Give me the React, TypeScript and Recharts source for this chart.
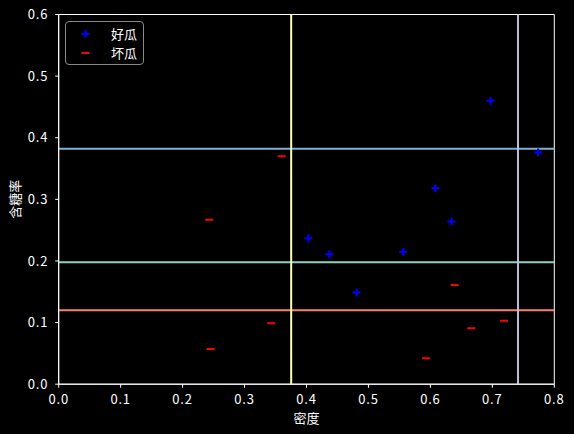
import React from 'react';
import {
  ScatterChart,
  Scatter,
  XAxis,
  YAxis,
  ReferenceLine,
  ReferenceArea,
  Legend,
} from 'recharts';

const goodX = [0.697, 0.774, 0.634, 0.608, 0.556, 0.403, 0.481, 0.437];
const goodY = [0.46, 0.376, 0.264, 0.318, 0.215, 0.237, 0.149, 0.211];
const badX = [0.666, 0.243, 0.245, 0.343, 0.639, 0.36, 0.593, 0.719];
const badY = [0.091, 0.267, 0.057, 0.099, 0.161, 0.37, 0.042, 0.103];

const xTicks = [0, 0.1, 0.2, 0.3, 0.4, 0.5, 0.6, 0.7, 0.8];
const yTicks = [0, 0.1, 0.2, 0.3, 0.4, 0.5, 0.6];

const hLines = [0.382, 0.198, 0.12];
const hColors = ['#81b1d2', '#8dd3c7', '#fa8174'];
const vLines = [0.3753, 0.7414];
const vColors = ['#feffb3', '#bfbbd9'];

const seriesNames = ['好瓜', '坏瓜'];

const goodData = goodX.map((x, i) => ({ x, y: goodY[i] }));
const badData = badX.map((x, i) => ({ x, y: badY[i] }));

const FONT = '"Noto Sans CJK SC", "Noto Sans", sans-serif';

const Plus = (props: any) => {
  const { cx, cy } = props;
  if (cx == null || cy == null) return null;
  return (
    <g>
      <line x1={cx - 4} x2={cx + 4} y1={cy} y2={cy} stroke="#0000ff" strokeWidth={2} />
      <line x1={cx} x2={cx} y1={cy - 4} y2={cy + 4} stroke="#0000ff" strokeWidth={2} />
    </g>
  );
};

const Minus = (props: any) => {
  const { cx, cy } = props;
  if (cx == null || cy == null) return null;
  return <line x1={cx - 4} x2={cx + 4} y1={cy} y2={cy} stroke="#ff0000" strokeWidth={2} />;
};

const LegendBox = (props: any) => {
  const payload = [...(props.payload || [])].sort(
    (a: any, b: any) => seriesNames.indexOf(a.value) - seriesNames.indexOf(b.value)
  );
  return (
    <div
      style={{
        width: 77,
        height: 42,
        border: '1px solid #8a8a8a',
        borderRadius: 4,
        background: 'rgba(0,0,0,0.8)',
        position: 'relative',
        fontFamily: FONT,
      }}
    >
      {payload.map((entry: any, i: number) => {
        const isGood = entry.value === seriesNames[0];
        const top = i === 0 ? 3 : 22;
        return (
          <div key={i} style={{ position: 'absolute', left: 0, top, height: 18, width: 77 }}>
            <svg width={40} height={18} style={{ position: 'absolute', left: 0, top: 0 }}>
              {isGood ? <Plus cx={19.5} cy={9} /> : <Minus cx={19.5} cy={9} />}
            </svg>
            <span
              style={{
                position: 'absolute',
                left: 45,
                top: 0,
                lineHeight: '18px',
                fontSize: 13,
                color: '#ffffff',
                whiteSpace: 'nowrap',
              }}
            >
              {entry.value}
            </span>
          </div>
        );
      })}
    </div>
  );
};

const tickStyle = { fill: '#ffffff', fontSize: 13, fontFamily: FONT, letterSpacing: 0.8 };

export default function App() {
  return (
    <div
      style={{
        position: 'absolute',
        left: 0,
        top: 0,
        width: 574,
        height: 434,
        background: '#000000',
      }}
    >
      <ScatterChart
        width={574}
        height={434}
        margin={{ top: 14.5, right: 19.7, bottom: 0, left: 0 }}
        style={{ background: '#000000' }}
      >
        <XAxis
          type="number"
          dataKey="x"
          domain={[0, 0.8]}
          ticks={xTicks}
          allowDataOverflow
          height={49.8}
          stroke="#ffffff"
          tickSize={3.5}
          tickMargin={7}
          tick={tickStyle}
          tickFormatter={(v: number) => v.toFixed(1)}
          interval={0}
          label={{
            content: (p: any) => {
              const vb = p.viewBox || {};
              return (
                <text
                  x={vb.x + vb.width / 2}
                  y={vb.y + 39}
                  textAnchor="middle"
                  fill="#ffffff"
                  fontSize={13}
                  fontFamily={FONT}
                >
                  密度
                </text>
              );
            },
          }}
        />
        <YAxis
          type="number"
          dataKey="y"
          domain={[0, 0.6]}
          ticks={yTicks}
          allowDataOverflow
          width={58.7}
          stroke="#ffffff"
          tickSize={3.5}
          tickMargin={7}
          tick={tickStyle}
          tickFormatter={(v: number) => v.toFixed(1)}
          interval={0}
          label={{
            content: (p: any) => {
              const vb = p.viewBox || {};
              const cx = 20;
              const cy = vb.y + vb.height / 2;
              return (
                <text
                  x={cx}
                  y={cy}
                  textAnchor="middle"
                  fill="#ffffff"
                  fontSize={13}
                  fontFamily={FONT}
                  transform={`rotate(-90 ${cx} ${cy})`}
                >
                  含糖率
                </text>
              );
            },
          }}
        />
        <Scatter
          name={seriesNames[0]}
          data={goodData}
          fill="#0000ff"
          shape={<Plus />}
          isAnimationActive={false}
        />
        <Scatter
          name={seriesNames[1]}
          data={badData}
          fill="#ff0000"
          shape={<Minus />}
          isAnimationActive={false}
        />
        {hLines.map((v, i) => (
          <ReferenceLine key={'h' + i} y={v} stroke={hColors[i]} strokeWidth={2} />
        ))}
        {vLines.map((v, i) => (
          <ReferenceLine key={'v' + i} x={v} stroke={vColors[i]} strokeWidth={2} />
        ))}
        <ReferenceArea
          x1={0}
          x2={0.8}
          y1={0}
          y2={0.6}
          fill="none"
          fillOpacity={0}
          stroke="#ffffff"
          strokeWidth={1}
          ifOverflow="visible"
        />
        <Legend
          layout="horizontal"
          verticalAlign="middle"
          align="center"
          content={<LegendBox />}
          wrapperStyle={{ position: 'absolute', left: 65, top: 21, width: 79, height: 44 }}
        />
      </ScatterChart>
    </div>
  );
}
